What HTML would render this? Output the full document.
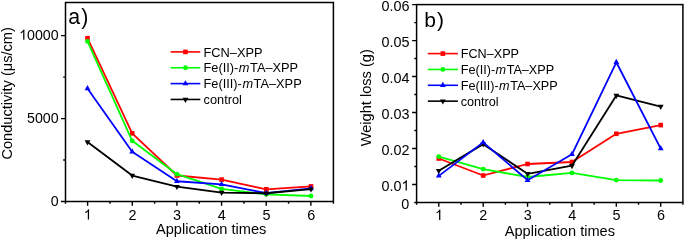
<!DOCTYPE html>
<html><head><meta charset="utf-8"><style>
html,body{margin:0;padding:0;background:#fff;}
body{width:685px;height:241px;overflow:hidden;}
svg{display:block;font-family:"Liberation Sans", sans-serif;fill:#000;}
svg{will-change:transform}
</style></head><body>
<svg width="685" height="241" viewBox="0 0 685 241">
<rect x="65.5" y="2.5" width="267.9" height="199" fill="none" stroke="#000" stroke-width="1.5"/>
<path d="M65.5 201.5v2.3 M87.62 201.5v4.2 M109.95 201.5v2.3 M132.28 201.5v4.2 M154.6 201.5v2.3 M176.93 201.5v4.2 M199.25 201.5v2.3 M221.58 201.5v4.2 M243.9 201.5v2.3 M266.22 201.5v4.2 M288.55 201.5v2.3 M310.88 201.5v4.2 M333.4 201.5v2.3 M65.5 201.5h-4.5 M65.5 160.04h-2.3 M65.5 118.58h-4.5 M65.5 77.12h-2.3 M65.5 35.67h-4.5" stroke="#000" stroke-width="1.4" fill="none"/>
<polyline points="87.5,38.2 132.2,133.3 176.9,175.5 221.6,179.6 266.3,189.3 311,186.4" fill="none" stroke="#ff0000" stroke-width="1.8" stroke-linejoin="round"/><rect x="85.2" y="35.9" width="4.6" height="4.6" fill="#ff0000"/><rect x="129.9" y="131" width="4.6" height="4.6" fill="#ff0000"/><rect x="174.6" y="173.2" width="4.6" height="4.6" fill="#ff0000"/><rect x="219.3" y="177.3" width="4.6" height="4.6" fill="#ff0000"/><rect x="264" y="187" width="4.6" height="4.6" fill="#ff0000"/><rect x="308.7" y="184.1" width="4.6" height="4.6" fill="#ff0000"/>
<polyline points="87.5,41.4 132.2,140.8 176.9,174.2 221.6,188.9 266.3,194.4 311,196" fill="none" stroke="#00ff00" stroke-width="1.8" stroke-linejoin="round"/><circle cx="87.5" cy="41.4" r="2.4" fill="#00ff00"/><circle cx="132.2" cy="140.8" r="2.4" fill="#00ff00"/><circle cx="176.9" cy="174.2" r="2.4" fill="#00ff00"/><circle cx="221.6" cy="188.9" r="2.4" fill="#00ff00"/><circle cx="266.3" cy="194.4" r="2.4" fill="#00ff00"/><circle cx="311" cy="196" r="2.4" fill="#00ff00"/>
<polyline points="87.5,88.52 132.2,151.77 176.9,181.27 221.6,184.37 266.3,193.17 311,188.47" fill="none" stroke="#0000ff" stroke-width="1.8" stroke-linejoin="round"/><path d="M87.5 85.05L90.4 90.25L84.6 90.25Z" fill="#0000ff"/><path d="M132.2 148.3L135.1 153.5L129.3 153.5Z" fill="#0000ff"/><path d="M176.9 177.8L179.8 183L174 183Z" fill="#0000ff"/><path d="M221.6 180.9L224.5 186.1L218.7 186.1Z" fill="#0000ff"/><path d="M266.3 189.7L269.2 194.9L263.4 194.9Z" fill="#0000ff"/><path d="M311 185L313.9 190.2L308.1 190.2Z" fill="#0000ff"/>
<polyline points="87.5,142.03 132.2,175.58 176.9,186.63 221.6,192.53 266.3,193.23 311,189.13" fill="none" stroke="#000000" stroke-width="1.8" stroke-linejoin="round"/><path d="M84.6 140.3L90.4 140.3L87.5 145.5Z" fill="#000000"/><path d="M129.3 173.85L135.1 173.85L132.2 179.05Z" fill="#000000"/><path d="M174 184.9L179.8 184.9L176.9 190.1Z" fill="#000000"/><path d="M218.7 190.8L224.5 190.8L221.6 196Z" fill="#000000"/><path d="M263.4 191.5L269.2 191.5L266.3 196.7Z" fill="#000000"/><path d="M308.1 187.4L313.9 187.4L311 192.6Z" fill="#000000"/>
<rect x="416.6" y="4.6" width="266.3" height="197.9" fill="none" stroke="#000" stroke-width="1.5"/>
<path d="M416.6 202.5v2.3 M438.79 202.5v4.2 M460.98 202.5v2.3 M483.18 202.5v4.2 M505.37 202.5v2.3 M527.56 202.5v4.2 M549.75 202.5v2.3 M571.94 202.5v4.2 M594.13 202.5v2.3 M616.33 202.5v4.2 M638.52 202.5v2.3 M660.71 202.5v4.2 M682.9 202.5v2.3 M416.6 4.6h-4.5 M416.6 22.59h-2.3 M416.6 40.58h-4.5 M416.6 58.57h-2.3 M416.6 76.56h-4.5 M416.6 94.55h-2.3 M416.6 112.55h-4.5 M416.6 130.54h-2.3 M416.6 148.53h-4.5 M416.6 166.52h-2.3 M416.6 184.51h-4.5 M416.6 202.5h-2.3" stroke="#000" stroke-width="1.4" fill="none"/>
<polyline points="438.79,158.5 483.18,175.5 527.56,164 571.94,162 616.33,133.8 660.71,125.1" fill="none" stroke="#ff0000" stroke-width="1.8" stroke-linejoin="round"/><rect x="436.49" y="156.2" width="4.6" height="4.6" fill="#ff0000"/><rect x="480.88" y="173.2" width="4.6" height="4.6" fill="#ff0000"/><rect x="525.26" y="161.7" width="4.6" height="4.6" fill="#ff0000"/><rect x="569.64" y="159.7" width="4.6" height="4.6" fill="#ff0000"/><rect x="614.03" y="131.5" width="4.6" height="4.6" fill="#ff0000"/><rect x="658.41" y="122.8" width="4.6" height="4.6" fill="#ff0000"/>
<polyline points="438.79,156.6 483.18,169.1 527.56,177 571.94,172.9 616.33,180.1 660.71,180.5" fill="none" stroke="#00ff00" stroke-width="1.8" stroke-linejoin="round"/><circle cx="438.79" cy="156.6" r="2.4" fill="#00ff00"/><circle cx="483.18" cy="169.1" r="2.4" fill="#00ff00"/><circle cx="527.56" cy="177" r="2.4" fill="#00ff00"/><circle cx="571.94" cy="172.9" r="2.4" fill="#00ff00"/><circle cx="616.33" cy="180.1" r="2.4" fill="#00ff00"/><circle cx="660.71" cy="180.5" r="2.4" fill="#00ff00"/>
<polyline points="438.79,170.73 483.18,144.13 527.56,173.83 571.94,165.73 616.33,95.43 660.71,106.53" fill="none" stroke="#000000" stroke-width="1.8" stroke-linejoin="round"/><path d="M435.89 169L441.69 169L438.79 174.2Z" fill="#000000"/><path d="M480.28 142.4L486.07 142.4L483.18 147.6Z" fill="#000000"/><path d="M524.66 172.1L530.46 172.1L527.56 177.3Z" fill="#000000"/><path d="M569.04 164L574.84 164L571.94 169.2Z" fill="#000000"/><path d="M613.43 93.7L619.23 93.7L616.33 98.9Z" fill="#000000"/><path d="M657.81 104.8L663.61 104.8L660.71 110Z" fill="#000000"/>
<polyline points="438.79,175.87 483.18,142.37 527.56,180.17 571.94,154.27 616.33,62.27 660.71,148.57" fill="none" stroke="#0000ff" stroke-width="1.8" stroke-linejoin="round"/><path d="M438.79 172.4L441.69 177.6L435.89 177.6Z" fill="#0000ff"/><path d="M483.18 138.9L486.07 144.1L480.28 144.1Z" fill="#0000ff"/><path d="M527.56 176.7L530.46 181.9L524.66 181.9Z" fill="#0000ff"/><path d="M571.94 150.8L574.84 156L569.04 156Z" fill="#0000ff"/><path d="M616.33 58.8L619.23 64L613.43 64Z" fill="#0000ff"/><path d="M660.71 145.1L663.61 150.3L657.81 150.3Z" fill="#0000ff"/>
<line x1="170.6" y1="51.9" x2="200.3" y2="51.9" stroke="#ff0000" stroke-width="1.6"/><rect x="183.15" y="49.6" width="4.6" height="4.6" fill="#ff0000"/><text x="203.5" y="56.5" font-size="12.8">FCN–XPP</text><line x1="170.6" y1="67.75" x2="200.3" y2="67.75" stroke="#00ff00" stroke-width="1.6"/><circle cx="185.45" cy="67.75" r="2.4" fill="#00ff00"/><text x="203.5" y="72.35" font-size="12.8">Fe(II)-<tspan dx="0.5" font-style="italic">m</tspan><tspan dx="0.5">TA–XPP</tspan></text><line x1="170.6" y1="83.6" x2="200.3" y2="83.6" stroke="#0000ff" stroke-width="1.6"/><path d="M185.45 80.13L188.35 85.33L182.55 85.33Z" fill="#0000ff"/><text x="203.5" y="88.2" font-size="12.8">Fe(III)-<tspan dx="0.5" font-style="italic">m</tspan><tspan dx="0.5">TA–XPP</tspan></text><line x1="170.6" y1="99.45" x2="200.3" y2="99.45" stroke="#000000" stroke-width="1.6"/><path d="M182.55 97.72L188.35 97.72L185.45 102.92Z" fill="#000000"/><text x="203.5" y="104.05" font-size="12.8">control</text>
<line x1="427.8" y1="53.6" x2="457.9" y2="53.6" stroke="#ff0000" stroke-width="1.6"/><rect x="440.55" y="51.3" width="4.6" height="4.6" fill="#ff0000"/><text x="460.7" y="58" font-size="12.65">FCN–XPP</text><line x1="427.8" y1="69.45" x2="457.9" y2="69.45" stroke="#00ff00" stroke-width="1.6"/><circle cx="442.85" cy="69.45" r="2.4" fill="#00ff00"/><text x="460.7" y="73.85" font-size="12.65">Fe(II)-<tspan dx="0.5" font-style="italic">m</tspan><tspan dx="0.5">TA–XPP</tspan></text><line x1="427.8" y1="85.3" x2="457.9" y2="85.3" stroke="#0000ff" stroke-width="1.6"/><path d="M442.85 81.83L445.75 87.03L439.95 87.03Z" fill="#0000ff"/><text x="460.7" y="89.7" font-size="12.65">Fe(III)-<tspan dx="0.5" font-style="italic">m</tspan><tspan dx="0.5">TA–XPP</tspan></text><line x1="427.8" y1="101.15" x2="457.9" y2="101.15" stroke="#000000" stroke-width="1.6"/><path d="M439.95 99.42L445.75 99.42L442.85 104.62Z" fill="#000000"/><text x="460.7" y="105.55" font-size="12.65">control</text>
<text x="50.7" y="205.6" font-size="14.2" text-anchor="start" >0</text>
<text x="27.02" y="122.68" font-size="14.2" text-anchor="start" >5000</text>
<path transform="translate(19.12,39.77) scale(0.006934,-0.006934)" d="M763 0L583 0L583 1147Q518 1085 412.5 1023Q307 961 223 930L223 1104Q374 1175 487 1276Q600 1377 647 1472L763 1472Z"/><text x="27.02" y="39.77" font-size="14.2" text-anchor="start" >0000</text>
<path transform="translate(83.7,219.6) scale(0.007031,-0.007031)" d="M763 0L583 0L583 1147Q518 1085 412.5 1023Q307 961 223 930L223 1104Q374 1175 487 1276Q600 1377 647 1472L763 1472Z"/>
<path transform="translate(434.99,219.9) scale(0.007031,-0.007031)" d="M763 0L583 0L583 1147Q518 1085 412.5 1023Q307 961 223 930L223 1104Q374 1175 487 1276Q600 1377 647 1472L763 1472Z"/>
<text x="128.4" y="219.6" font-size="14.4" text-anchor="start" >2</text>
<text x="479.37" y="219.9" font-size="14.4" text-anchor="start" >2</text>
<text x="173.1" y="219.6" font-size="14.4" text-anchor="start" >3</text>
<text x="523.76" y="219.9" font-size="14.4" text-anchor="start" >3</text>
<text x="217.8" y="219.6" font-size="14.4" text-anchor="start" >4</text>
<text x="568.14" y="219.9" font-size="14.4" text-anchor="start" >4</text>
<text x="262.5" y="219.6" font-size="14.4" text-anchor="start" >5</text>
<text x="612.52" y="219.9" font-size="14.4" text-anchor="start" >5</text>
<text x="307.2" y="219.6" font-size="14.4" text-anchor="start" >6</text>
<text x="656.91" y="219.9" font-size="14.4" text-anchor="start" >6</text>
<text x="381.48" y="10.6" font-size="14.4" text-anchor="start" >0.06</text>
<text x="381.48" y="46.58" font-size="14.4" text-anchor="start" >0.05</text>
<text x="381.48" y="82.56" font-size="14.4" text-anchor="start" >0.04</text>
<text x="381.48" y="118.55" font-size="14.4" text-anchor="start" >0.03</text>
<text x="381.48" y="154.53" font-size="14.4" text-anchor="start" >0.02</text>
<text x="381.48" y="190.51" font-size="14.4" text-anchor="start" >0.0</text><path transform="translate(401.49,190.51) scale(0.007031,-0.007031)" d="M763 0L583 0L583 1147Q518 1085 412.5 1023Q307 961 223 930L223 1104Q374 1175 487 1276Q600 1377 647 1472L763 1472Z"/>
<text x="401.29" y="208.5" font-size="14.4" text-anchor="start" >0</text>
<text x="156" y="234" font-size="14.6" text-anchor="start" >Application times</text>
<text x="504.7" y="236.4" font-size="14.6" text-anchor="start" >Application times</text>
<text transform="translate(11.6,159.6) rotate(-90)" font-size="14.6">Conductivity (μs/cm)</text>
<text transform="translate(371.2,146.3) rotate(-90)" font-size="14.6">Weight loss (g)</text>
<text x="68.2" y="24" font-size="21.3" text-anchor="start" >a<tspan dx="1.1">)</tspan></text>
<text x="424.3" y="26.7" font-size="21" text-anchor="start" >b<tspan dx="1.1">)</tspan></text>
</svg>
</body></html>
